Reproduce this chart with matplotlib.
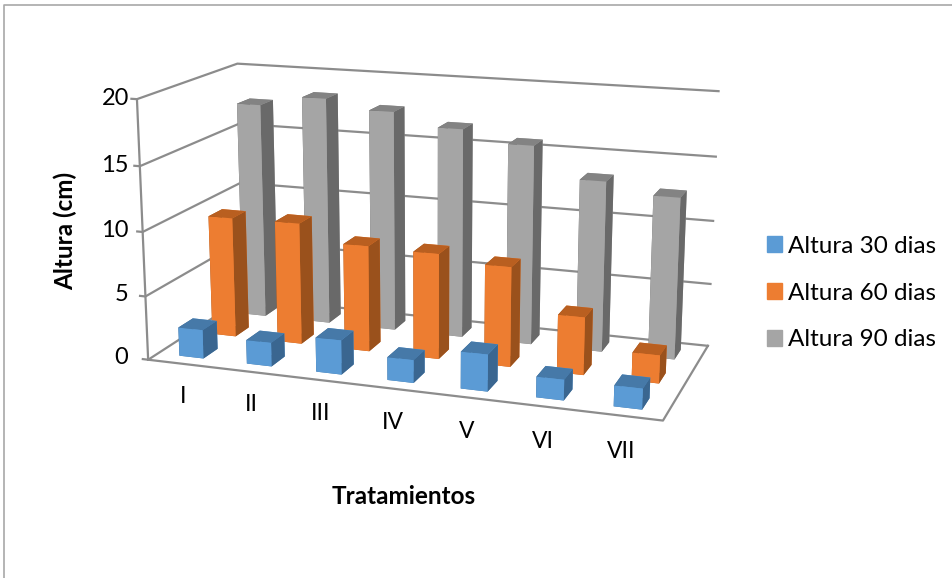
import numpy as np
import matplotlib
matplotlib.use("Agg")
import matplotlib.pyplot as plt
from mpl_toolkits.mplot3d import Axes3D

plt.rcParams['font.family'] = ['Lato', 'DejaVu Sans']

tratamientos = ['I', 'II', 'III', 'IV', 'V', 'VI', 'VII']
series_names = ['Altura 30 dias', 'Altura 60 dias', 'Altura 90 dias']
altura_30 = [2.25, 1.85, 2.65, 1.75, 2.8, 1.55, 1.55]
altura_60 = [9.6, 9.65, 8.35, 8.25, 7.75, 4.45, 2.15]
altura_90 = [17.5, 18.35, 17.65, 16.65, 15.75, 13.4, 12.6]
valores = [altura_30, altura_60, altura_90]
z_ticks = [0, 5, 10, 15, 20]

# face colours per series
front_col = ['#5b9bd5', '#ed7d31', '#a5a5a5']
top_col = ['#4679a8', '#b95f20', '#838383']
side_col = ['#3a6690', '#9a511c', '#696969']
line_col = '#8c8c8c'

fig = plt.figure(figsize=(9.53, 5.78), dpi=100)
ax = fig.add_axes([0.0755, -0.0135, 0.7345, 1.211], projection='3d', computed_zorder=False)
ax.set_proj_type('persp', focal_length=0.46)
ax.view_init(elev=14.5, azim=-71)
ax.set_box_aspect((3.0, 1.3, 1.52), zoom=0.875)
ax.set_axis_off()
ax.set_xticks([])
ax.set_yticks([])
ax.set_zticks([])

n = len(tratamientos)
ax.set_xlim(0, n)
ax.set_ylim(0, 3)
ax.set_zlim(0, 20)

# walls and gridlines
for z in z_ticks:
    ax.plot([-0.08, 0, 0, n], [0, 0, 3, 3], [z, z, z, z], color=line_col, lw=1.6, zorder=1)
ax.plot([0, 0], [0, 0], [0, 20], color=line_col, lw=1.6, zorder=1)
ax.plot([0, n, n], [0, 0, 3], [0, 0, 0], color=line_col, lw=1.6, zorder=1)

bw, bd = 0.36, 0.43
for s in [2, 1, 0]:
    for i in range(n):
        cols = [top_col[s], top_col[s], front_col[s], front_col[s], side_col[s], side_col[s]]
        ax.bar3d(i + 0.32, s + 0.285, 0, bw, bd, valores[s][i], color=cols, shade=False, zorder=10 - s)

for i, t in enumerate(tratamientos):
    ax.text(i + 0.5, 0, -2.6, t, ha='center', va='center', fontsize=16.5)
for z in z_ticks:
    ax.text(-(0.31 - 0.01 * z), 0, z, str(z), ha='right', va='center', fontsize=17)

fig.text(0.069, 0.60, 'Altura (cm)', rotation=90, ha='center', va='center', fontsize=17.5, fontweight='bold')
fig.text(0.424, 0.141, 'Tratamientos', ha='center', va='center', fontsize=17.5, fontweight='bold')

handles = [plt.Rectangle((0, 0), 1, 1, color=c) for c in front_col]
fig.legend(handles, series_names, loc='center left', bbox_to_anchor=(0.805, 0.493), frameon=False,
           fontsize=17.5, handlelength=0.62, handleheight=0.62, handletextpad=0.25, labelspacing=1.06,
           borderpad=0, borderaxespad=0)

fig.add_artist(plt.Line2D([0.004, 0.004, 1.0], [0.0, 0.991, 0.991], color='#a8a8a8', lw=1.2, transform=fig.transFigure))
fig.savefig('out.png', dpi=100)
